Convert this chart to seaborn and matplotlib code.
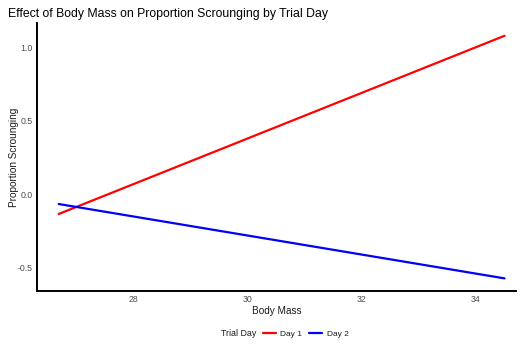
import matplotlib
matplotlib.use("Agg")
import matplotlib.pyplot as plt
import seaborn as sns
import pandas as pd
from matplotlib.lines import Line2D

sns.set_theme(style="white")
plt.rcParams['font.family'] = ['Liberation Sans', 'DejaVu Sans']

body_mass = [26.7, 34.5]
day1_pred = [-0.136, 1.079]
day2_pred = [-0.068, -0.575]
days = ["Day 1", "Day 2"]
colors = {"Day 1": "#FF0000", "Day 2": "#0000FF"}
x_ticks = [28, 30, 32, 34]
y_ticks = [-0.5, 0.0, 0.5, 1.0]

df = pd.DataFrame({
    "Body Mass": body_mass + body_mass,
    "Proportion Scrounging": day1_pred + day2_pred,
    "Trial Day": [days[0]] * len(body_mass) + [days[1]] * len(body_mass),
})

fig = plt.figure(figsize=(5.23, 3.45), dpi=100)
ax = fig.add_axes([37/523, 1 - 291/345, (516-37)/523, (291-23)/345])
sns.lineplot(data=df, x="Body Mass", y="Proportion Scrounging", hue="Trial Day",
             palette=colors, linewidth=1.6, ax=ax, legend=False)

ax.set_xlim(26.32, 34.70)
ax.set_ylim(-0.661, 1.166)
ax.set_xticks(x_ticks)
ax.set_xticklabels([str(t) for t in x_ticks])
ax.set_yticks(y_ticks)
ax.set_yticklabels([f"{t:.1f}" for t in y_ticks])
ax.tick_params(axis="both", labelsize=6.3, colors="#4D4D4D", length=0)
ax.tick_params(axis="y", pad=3)
ax.tick_params(axis="x", pad=3)
for s in ["top", "right"]:
    ax.spines[s].set_visible(False)
for s in ["left", "bottom"]:
    ax.spines[s].set_color("black")
    ax.spines[s].set_linewidth(1.4)
ax.grid(False)
ax.set_xlabel("Body Mass", fontsize=7.2, color="#1A1A1A", labelpad=1)
ax.set_ylabel("Proportion Scrounging", fontsize=7.2, color="#1A1A1A", labelpad=-0.8)

fig.text(8/523, 1 - 14/345, "Effect of Body Mass on Proportion Scrounging by Trial Day",
         fontsize=8.8, color="black", ha="left", va="center")

fig.text(221/523, 1 - 334/345, "Trial Day", fontsize=6.4, color="#1A1A1A",
         ha="left", va="center")
handles = [Line2D([], [], color=colors[d], lw=1.6) for d in days]
fig.legend(handles, days, loc="center left", bbox_to_anchor=(263/523, 1 - 334/345),
           ncol=2, frameon=False, fontsize=6.0, handlelength=1.5, handletextpad=0.6,
           columnspacing=0.8, borderaxespad=0, borderpad=0, labelcolor="#1A1A1A")

fig.savefig("out.png", dpi=100)
